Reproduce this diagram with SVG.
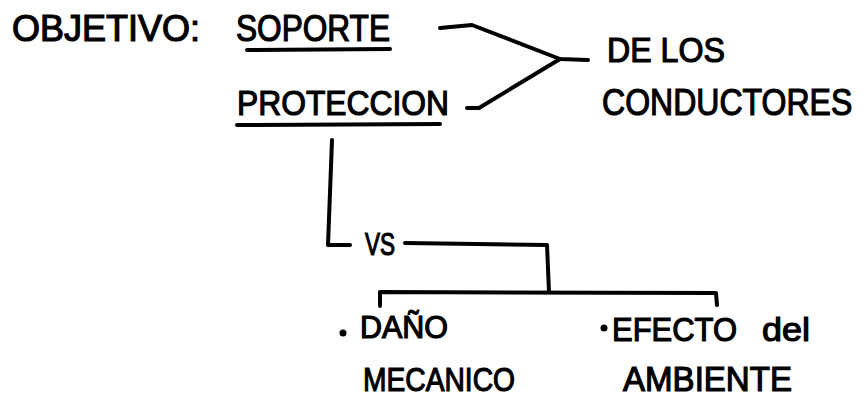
<svg xmlns="http://www.w3.org/2000/svg" width="864" height="397" viewBox="0 0 864 397">
<style>
.t{font-family:"Liberation Sans","DejaVu Sans",sans-serif;fill:#000;stroke:#000;stroke-width:1.2;paint-order:stroke}
.c{fill:none;stroke:#000;stroke-width:4;stroke-linecap:round;stroke-linejoin:round}
</style>
<rect width="864" height="397" fill="#fff"/>
<g id="objetivo">
<text class="t" x="12" y="41" font-size="36" textLength="188" lengthAdjust="spacingAndGlyphs">OBJETIVO:</text>
</g>
<g id="soporte">
<text class="t" x="236" y="41" font-size="36" textLength="154" lengthAdjust="spacingAndGlyphs">SOPORTE</text>
<path class="c" d="M247 50 L390 49"/>
</g>
<g id="proteccion">
<text class="t" x="237" y="115" font-size="35" textLength="212" lengthAdjust="spacingAndGlyphs">PROTECCION</text>
<path class="c" d="M237 125 L440 124"/>
</g>
<g id="conductores">
<text class="t" x="607" y="62" font-size="35" textLength="118" lengthAdjust="spacingAndGlyphs">DE LOS</text>
<text class="t" transform="translate(602 115) scale(0.866 1)" x="0" y="0" font-size="37">CONDUCTORES</text>
</g>
<g id="vs">
<text class="t" x="365" y="255" font-size="31" textLength="30" lengthAdjust="spacingAndGlyphs">VS</text>
</g>
<g id="dano">
<circle cx="343" cy="333" r="3.5"/>
<text class="t" x="360" y="338" font-size="31" textLength="88" lengthAdjust="spacingAndGlyphs">DAÑO</text>
<text class="t" x="363" y="391" font-size="34" textLength="152" lengthAdjust="spacingAndGlyphs">MECANICO</text>
</g>
<g id="efecto">
<circle cx="604" cy="328" r="3.5"/>
<text class="t" x="612" y="341" font-size="34" textLength="125" lengthAdjust="spacingAndGlyphs">EFECTO</text>
<text class="t" x="762" y="341" font-size="34" textLength="48" lengthAdjust="spacingAndGlyphs" stroke-width="0.4">del</text>
<text class="t" x="623" y="391" font-size="35" textLength="169" lengthAdjust="spacingAndGlyphs">AMBIENTE</text>
</g>
<g id="connectors">
<path class="c" d="M440 28 L472 25 L560 59 L588 60"/>
<path class="c" d="M467 108 L479 108 L560 59"/>
<path class="c" d="M332 140 L328 245 L350 245"/>
<path class="c" d="M405 243 L547 245 L549 292"/>
<path class="c" d="M380 306 L380 292 L716 293 L717 305"/>
</g>
</svg>
